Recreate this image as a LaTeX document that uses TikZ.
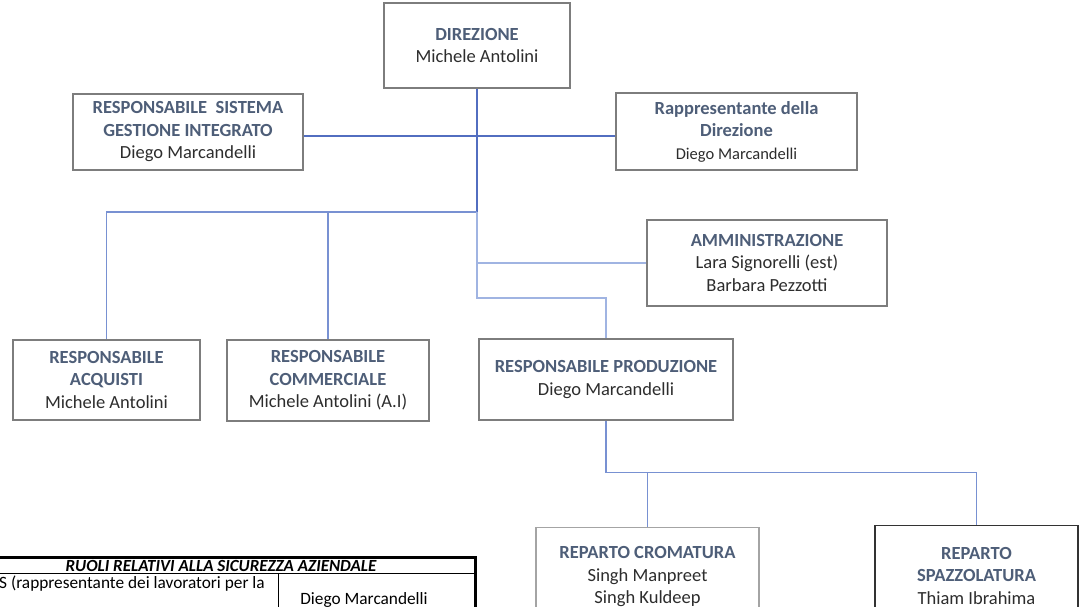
\documentclass[tikz,border=0pt]{standalone}
\usepackage{fontspec}
\setmainfont{Carlito}
\definecolor{ttl}{RGB}{78,94,120}
\definecolor{nm}{RGB}{45,45,45}
\definecolor{bx}{RGB}{125,125,125}
\definecolor{lnd}{RGB}{82,110,192}
\definecolor{lnm}{RGB}{120,145,210}
\definecolor{lnl}{RGB}{160,180,226}
\newcommand\ttlt[1]{{\bfseries\color{ttl}#1}}
\tikzset{
  orgbox/.style={draw=bx, line width=1.2pt, fill=white, align=center, inner sep=2pt,
    font=\fontsize{18.5}{22.5}\selectfont, text=nm},
  conndark/.style={draw=lnd, line width=1.5pt},
  connmid/.style={draw=lnm, line width=1.5pt},
  connlight/.style={draw=lnl, line width=1.5pt},
  tabtext/.style={font=\fontsize{17.3}{20}\selectfont, text=black, inner sep=0pt},
}
\begin{document}
\begin{tikzpicture}[x=1pt,y=-1pt]
\useasboundingbox (0,0) rectangle (1080,607);
\clip (0,0) rectangle (1080,607);
\fill[white] (0,0) rectangle (1080,607);

% boxes
\node[orgbox, minimum width=186pt, minimum height=85pt] (dir) at (477,45.5)
  {\ttlt{DIREZIONE}\\Michele Antolini};
\node[orgbox, minimum width=230pt, minimum height=76pt] (rsgi) at (188,132)
  {\ttlt{RESPONSABILE\ \ SISTEMA}\\\ttlt{GESTIONE INTEGRATO}\\Diego Marcandelli};
\node[orgbox, minimum width=241pt, minimum height=77pt] (rapp) at (736.5,131.5)
  {\ttlt{Rappresentante della}\\\ttlt{Direzione}\\{\fontsize{16.5}{20}\selectfont Diego Marcandelli}};
\node[orgbox, minimum width=240pt, minimum height=86pt] (amm) at (767,263)
  {\ttlt{AMMINISTRAZIONE}\\Lara Signorelli (est)\\Barbara Pezzotti};
\node[orgbox, minimum width=187pt, minimum height=80pt] (acq) at (106.5,380)
  {\ttlt{RESPONSABILE}\\\ttlt{ACQUISTI}\\Michele Antolini};
\node[orgbox, minimum width=202pt, minimum height=81pt] (comm) at (328,380.5)
  {\ttlt{RESPONSABILE}\\\ttlt{COMMERCIALE}\\Michele Antolini (A.I)};
\node[orgbox, minimum width=254pt, minimum height=81pt] (prod) at (606,379.5)
  {\ttlt{RESPONSABILE PRODUZIONE}\\Diego Marcandelli};
\node[orgbox, draw=bx!70, minimum width=223pt, minimum height=98pt, anchor=north] (crom) at (647.5,527)
  {\ttlt{REPARTO CROMATURA}\\Singh Manpreet\\Singh Kuldeep};
\node[orgbox, draw=black!80, minimum width=203pt, minimum height=100pt, anchor=north] (spaz) at (976.5,525)
  {\ttlt{REPARTO}\\\ttlt{SPAZZOLATURA}\\Thiam Ibrahima};

% junctions
\coordinate (jA) at (477,136);
\coordinate (jB) at (477,212);
\coordinate (jC) at (477,263);
\coordinate (jD) at (477,298);

% connectors
\draw[conndark] (dir.south) -- (jB);
\draw[conndark] (rsgi.east |- jA) -- (rapp.west |- jA);
\draw[connmid] (jB) -| (acq.north);
\draw[connmid] (jB -| comm.north) -- (comm.north);
\draw[connlight] (jB) -- (jD) -| (prod.north);
\draw[connlight] (jC) -- (amm.west |- jC);
\draw[connmid] (prod.south) -- ++(0,52) coordinate (jE) -| (spaz.north);
\draw[connmid] (jE -| crom.north) -- (crom.north);

% safety table
\draw[line width=1pt] (-33,573) -- (475,573);
\draw[line width=1pt] (278,573) -- (278,650);
\draw[line width=3pt] (-33,557) rectangle (475,650);
\node[tabtext, font=\fontsize{17}{20}\selectfont\bfseries\itshape] (thd) at (221,565.5)
  {RUOLI RELATIVI ALLA SICUREZZA AZIENDALE};
\node[tabtext, anchor=west] (rls) at (-1,584) {S (rappresentante dei lavoratori per la};
\node[tabtext] (rlsn) at (364,600) {Diego Marcandelli};
\end{tikzpicture}
\end{document}
